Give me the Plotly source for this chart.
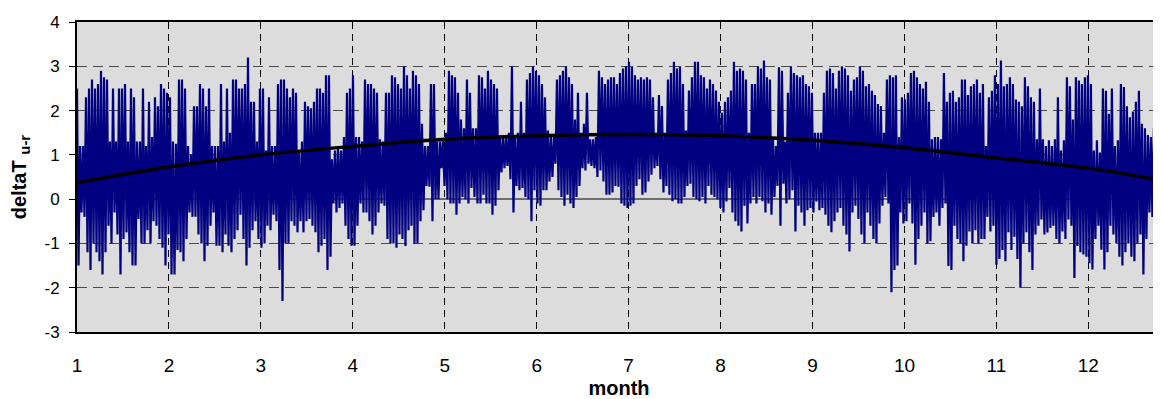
import plotly.graph_objects as go

# Daily maximum / minimum of deltaT u-r (one pair per day)
daily_max = [
    # Jan - early Mar
    2.5,1.2,1.2,2.3,2.5,2.7,2.5,2.6,2.9,2.75,2.7,1.3,2.5,1.3,2.5,2.5,2.6,1.3,2.5,2.3,
    1.3,1.3,2.5,1.2,2.2,1.4,2.3,2.1,2.6,2.5,2.4,2.3,1.3,1.25,2.7,2.7,2.5,1.2,1.0,2.1,
    2.1,2.6,2.5,2.1,2.5,1.2,1.2,1.2,2.6,1.3,2.5,1.5,2.7,2.7,2.5,2.5,2.6,3.2,2.2,2.2,
    1.3,2.5,2.5,1.1,2.3,1.2,1.2,2.6,2.7,2.7,2.5,2.3,2.5,
    # Mar - May
    2.4,1.1,1.3,2.2,2.1,2.05,2.2,2.5,2.5,2.4,2.8,2.8,0.9,1.1,1.2,1.1,1.4,2.4,2.5,2.8,
    1.4,1.4,1.3,2.7,2.6,2.6,2.5,2.4,1.35,1.3,2.4,2.4,2.8,2.75,2.6,2.5,3.0,2.8,2.5,2.9,
    2.8,2.6,1.7,1.2,1.2,2.6,2.6,1.3,1.3,1.35,1.5,2.9,2.8,2.75,2.4,1.8,1.6,2.7,2.4,1.6,
    1.6,2.8,2.75,2.5,2.9,2.7,2.6,2.5,1.4,1.4,1.4,1.5,
    # Jun - Aug
    3.0,1.4,1.5,2.2,1.5,2.7,2.85,3.0,2.9,2.8,2.6,2.3,1.55,1.4,1.4,2.7,2.8,2.9,3.0,2.75,
    2.6,1.8,2.4,1.5,1.7,2.4,1.35,1.35,1.4,2.9,2.75,2.6,2.7,2.75,2.75,2.6,2.85,2.95,3.0,3.1,
    3.0,2.8,2.7,2.75,2.7,2.75,2.7,2.3,1.5,2.35,2.1,1.5,2.7,2.85,3.1,2.95,3.0,2.6,1.55,2.45,
    2.75,3.1,3.1,2.8,2.75,2.5,2.7,2.6,2.45,2.2,1.95,2.2,
    # Aug - Oct
    2.3,2.45,3.1,2.9,2.95,2.9,2.7,1.5,2.6,2.6,3.0,2.95,3.13,2.75,2.7,1.4,1.2,2.98,2.9,1.3,
    2.4,3.0,2.85,2.8,2.75,2.8,2.6,2.55,2.4,1.5,1.5,1.5,2.4,2.9,2.95,2.85,2.5,2.9,3.0,2.95,
    2.8,2.45,2.7,2.75,3.0,2.9,2.55,2.6,2.45,2.35,2.15,2.1,1.5,2.7,2.8,2.75,2.8,1.4,2.3,2.25,
    2.4,2.85,2.9,2.75,2.6,2.5,2.65,2.2,1.35,1.4,1.4,1.35,
    # Oct - Dec
    2.85,2.2,2.4,2.45,2.2,2.3,2.7,2.7,2.35,2.55,2.6,2.7,2.4,2.6,1.2,2.3,2.45,2.8,2.6,3.13,
    2.55,2.6,2.75,2.6,2.25,2.2,2.1,2.75,2.55,2.3,2.2,1.35,2.5,1.35,1.2,1.33,1.2,1.35,2.3,1.1,
    1.33,2.75,2.55,1.8,2.75,2.68,2.6,2.75,2.8,2.6,1.1,1.33,1.05,2.5,2.45,1.93,2.5,1.2,1.33,2.6,
    2.53,2.1,1.85,1.98,2.2,2.45,1.7,1.6,1.45,1.4,1.6,2.85,2.9,
]

daily_min = [
    # Jan - early Mar
    -1.5,-0.3,-0.4,-1.2,-1.6,-1.0,-1.2,-1.4,-1.7,-1.2,-0.6,-1.0,-0.3,-0.8,-1.7,-0.9,-0.75,-1.2,-1.5,-1.5,
    -0.45,-1.0,-1.0,-0.7,-1.0,-0.5,-0.6,-0.9,-1.1,-1.5,-0.8,-1.7,-1.7,-1.15,-1.2,-1.4,-0.9,-0.3,-0.4,-0.4,
    -0.8,-1.0,-1.4,-1.05,-0.6,-0.3,-1.05,-1.05,-1.2,-0.8,-1.05,-1.2,-0.9,-0.7,-0.35,-0.9,-1.5,-1.1,-0.7,-0.5,
    -0.9,-1.1,-1.0,-0.6,-0.7,-0.35,-0.5,-1.6,-2.3,-1.0,-1.0,-0.5,-0.6,
    # Mar - May
    -0.75,-0.5,-0.75,-0.5,-0.45,-0.6,-0.75,-1.2,-1.05,-0.9,-1.6,-1.3,-0.1,-0.3,-0.2,-0.1,-0.6,-0.9,-1.05,-1.05,
    -0.6,-0.1,-0.3,-0.3,-0.5,-0.8,-0.6,-0.3,-0.1,-0.15,-0.9,-1.0,-1.0,-1.1,-0.8,-0.9,-1.06,-0.7,-0.6,-1.0,
    -1.0,-0.5,-0.25,0.3,0.28,-0.5,0.0,0.0,0.7,0.3,0.0,-0.1,-0.1,-0.35,-0.1,0.05,0.0,-0.1,0.25,0.05,
    -0.1,-0.1,0.1,-0.1,-0.1,-0.35,-0.15,0.2,0.6,0.7,0.75,0.45,
    # Jun - Aug
    -0.3,0.3,0.2,0.25,0.05,0.0,-0.5,0.2,-0.1,-0.15,0.2,0.2,0.4,0.5,0.8,0.2,0.05,-0.15,0.1,-0.1,
    -0.2,0.05,0.3,0.7,0.65,0.8,0.75,0.7,0.5,0.65,0.4,0.1,0.1,0.15,0.3,0.28,-0.1,-0.15,-0.2,-0.15,
    -0.1,0.3,0.45,0.1,0.15,0.4,0.55,0.7,0.75,0.45,0.15,0.3,0.1,-0.05,0.0,-0.1,-0.1,0.05,0.3,0.35,
    0.05,0.0,-0.05,0.05,-0.1,0.3,0.1,0.05,0.0,-0.2,-0.3,-0.05,
    # Aug - Oct
    0.25,-0.3,-0.5,-0.6,-0.73,-0.15,-0.55,-0.1,0.05,-0.1,0.05,-0.05,-0.3,-0.1,-0.35,0.05,0.3,-0.6,0.35,-0.1,
    0.0,0.2,-0.73,-0.15,-0.3,-0.6,-0.25,-0.2,-0.3,-0.05,-0.25,-0.2,-0.35,-0.6,-0.75,-0.5,-0.3,-0.2,-0.6,-0.8,
    -1.18,-0.3,-0.15,-0.45,-0.8,-1.0,-0.3,-0.6,-0.9,-1.0,-0.55,-0.15,0.05,-0.1,-2.1,-1.6,-1.5,-0.3,-0.55,-0.5,
    -0.1,-0.55,-1.48,-0.9,-0.6,-0.3,-1.0,-0.95,-0.4,-0.3,-0.6,-0.2,
    # Oct - Dec
    -0.1,-1.51,-1.6,-0.6,-0.9,-1.0,-1.4,-1.05,-0.73,-1.0,-0.7,-1.0,-0.9,-0.9,-0.4,-0.73,-0.6,-1.48,-1.35,-1.15,
    -1.4,-0.75,-1.15,-0.85,-1.35,-2.0,-1.0,-0.75,-1.2,-1.6,-0.8,-0.6,-0.46,-0.8,-0.75,-0.65,-0.6,-0.9,-1.0,-0.73,
    -0.9,-0.46,-0.6,-1.78,-1.06,-1.2,-1.25,-1.3,-1.45,-1.59,-0.9,-0.6,-1.14,-1.59,-1.2,-0.6,-0.8,-1.0,-1.3,-1.5,
    -1.2,-1.0,-1.3,-1.4,-1.0,-0.8,-1.7,-0.9,-0.3,-0.4,-0.5,-1.06,-0.6,
]

# Polynomial trend line
trend_month = [1, 2, 3, 4, 5, 6, 7, 8, 9, 10, 11, 12, 12.79]
trend_value = [0.37, 0.73, 1.0, 1.19, 1.35, 1.43, 1.46, 1.43, 1.33, 1.16, 0.93, 0.70, 0.42]

month_ticks = list(range(1, 13))
y_ticks = list(range(-3, 5))
y_tick_text = [str(v) for v in y_ticks]  # plain hyphen minus like the original

DAYS_PER_MONTH = 30.65

xs, ys = [], []
for day, (hi, lo) in enumerate(zip(daily_max, daily_min)):
    xs.append(1 + day / DAYS_PER_MONTH)
    ys.append(hi)
    xs.append(1 + (day + 0.5) / DAYS_PER_MONTH)
    ys.append(lo)

fig = go.Figure()
fig.add_trace(go.Scatter(x=xs, y=ys, mode="lines",
                         line=dict(color="#000080", width=2.2),
                         showlegend=False, hoverinfo="skip"))
fig.add_trace(go.Scatter(x=trend_month, y=trend_value, mode="lines",
                         line=dict(color="black", width=3.5, shape="spline"),
                         showlegend=False, hoverinfo="skip"))

font = "Arial, 'Liberation Sans', sans-serif"
# the page body has an 8px default margin, so the figure is 8px smaller
fig.update_layout(
    width=1153, height=391, autosize=False,
    margin=dict(l=69, r=0, t=14, b=67),
    paper_bgcolor="white", plot_bgcolor="#dcdcdc",
    font=dict(family=font, size=16, color="black"),
    xaxis=dict(
        range=[1, 12.79], tickvals=month_ticks, ticktext=[str(m) for m in month_ticks],
        showgrid=True, gridcolor="black", gridwidth=1, griddash="7px,5px",
        showline=True, linecolor="black", linewidth=2, mirror=True,
        ticks="", ticklabelstandoff=15, zeroline=False, automargin=False,
        tickfont=dict(size=19),
        title=dict(text="<b>month</b>", font=dict(size=20), standoff=6),
    ),
    yaxis=dict(
        range=[-3, 4], tickvals=y_ticks, ticktext=y_tick_text,
        showgrid=True, gridcolor="#4a4a4a", gridwidth=1, griddash="10px,6px",
        showline=True, linecolor="black", linewidth=2,
        ticks="outside", ticklen=6, tickcolor="black", ticklabelstandoff=6,
        zeroline=True, zerolinecolor="#6e6e6e", zerolinewidth=1.5, automargin=False,
        tickfont=dict(size=17),
        title=dict(text="<b>deltaT <sub><span style='font-size:15px'>u-r</span></sub></b>",
                   font=dict(size=20), standoff=15),
    ),
)

fig.write_html("out.html")
